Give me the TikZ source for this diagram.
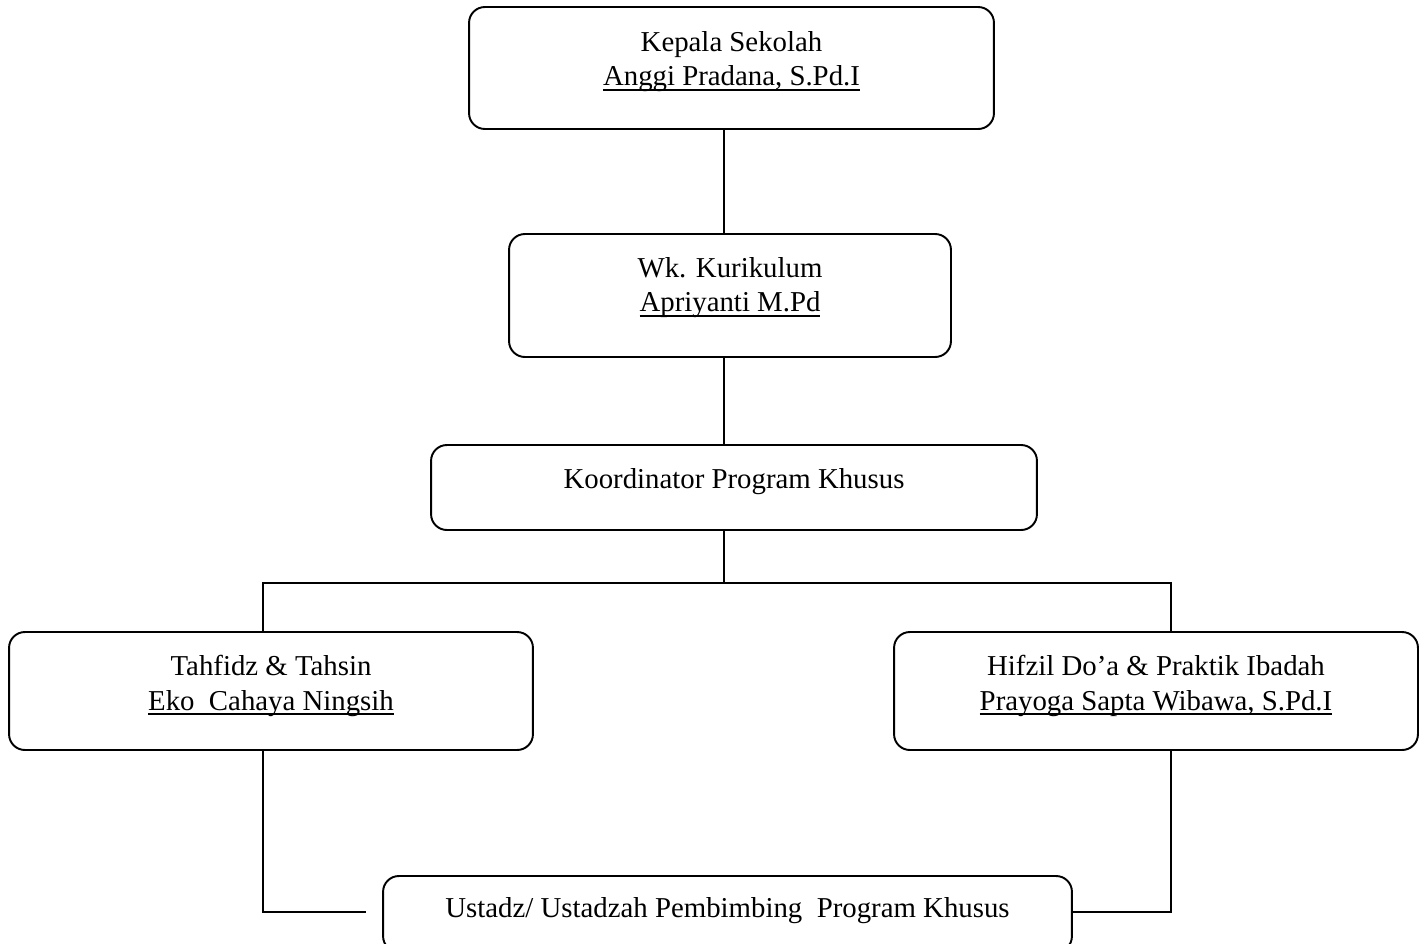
\documentclass[tikz,border=0pt]{standalone}
\usepackage{fontspec}
\setmainfont{Liberation Serif}
\usetikzlibrary{positioning}

\newlength{\namewd}
\newcommand{\nameline}[1]{\settowidth{\namewd}{#1}\rlap{\rule[-2.8pt]{\namewd}{0.9pt}}#1}

\begin{document}
\begin{tikzpicture}[
  x=0.02cm, y=-0.02cm,
  box/.style={draw, line width=1.1pt, rounded corners=9pt},
  txt/.style={align=center, inner sep=0pt, anchor=north,
              font=\fontsize{16.4}{19.6}\selectfont},
  link/.style={line width=0.6pt}
]
  \useasboundingbox (0,0) rectangle (1425,943);
  \clip (0,0) rectangle (1425,943);

  % boxes
  \node[box, minimum width=10.5cm,  minimum height=2.44cm] (kepala)  at (731.5,68) {};
  \node[box, minimum width=8.84cm,  minimum height=2.46cm] (wakil)   at (730,295.5) {};
  \node[box, minimum width=12.12cm, minimum height=1.7cm]  (koord)   at (734,487.5) {};
  \node[box, minimum width=10.48cm, minimum height=2.36cm] (tahfidz) at (271,691) {};
  \node[box, minimum width=10.48cm, minimum height=2.36cm] (hifzil)  at (1156,691) {};
  \node[box, minimum width=13.78cm, minimum height=1.52cm] (ustadz)  at (727.5,914) {};

  % texts
  \node[txt] (kepalaT)  at (731.5,31) {Kepala Sekolah\\\nameline{Anggi Pradana, S.Pd.I}};
  \node[txt] (wakilT)   at (730,257)  {Wk. Kurikulum\\\nameline{Apriyanti M.Pd}};
  \node[txt] (koordT)   at (734,468)  {Koordinator Program Khusus};
  \node[txt] (tahfidzT) at (271,655)  {Tahfidz \& Tahsin\\\nameline{Eko\ \ Cahaya Ningsih}};
  \node[txt] (hifzilT)  at (1156,655) {Hifzil Do’a \& Praktik Ibadah\\\nameline{Prayoga Sapta Wibawa, S.Pd.I}};
  \node[txt] (ustadzT)  at (727.5,897) {Ustadz/ Ustadzah Pembimbing\ \ Program Khusus};

  % connectors
  \coordinate (spine) at (724,0);
  \coordinate (busL)  at (263,583);
  \coordinate (busR)  at (1171,583);
  \coordinate (footL) at (263,912);
  \coordinate (footR) at (1171,912);
  \coordinate (gapL)  at (366,912);
  \draw[link] (kepala.south -| spine) -- (wakil.north -| spine);
  \draw[link] (wakil.south -| spine) -- (koord.north -| spine);
  \draw[link] (koord.south -| spine) -- (busL -| spine);
  \draw[link] (tahfidz.north -| busL) -- (busL) -- (busR) -- (hifzil.north -| busR);
  \draw[link] (tahfidz.south -| footL) -- (footL) -- (gapL);
  \draw[link] (ustadz.east |- footR) -- (footR) -- (hifzil.south -| footR);
\end{tikzpicture}
\end{document}
